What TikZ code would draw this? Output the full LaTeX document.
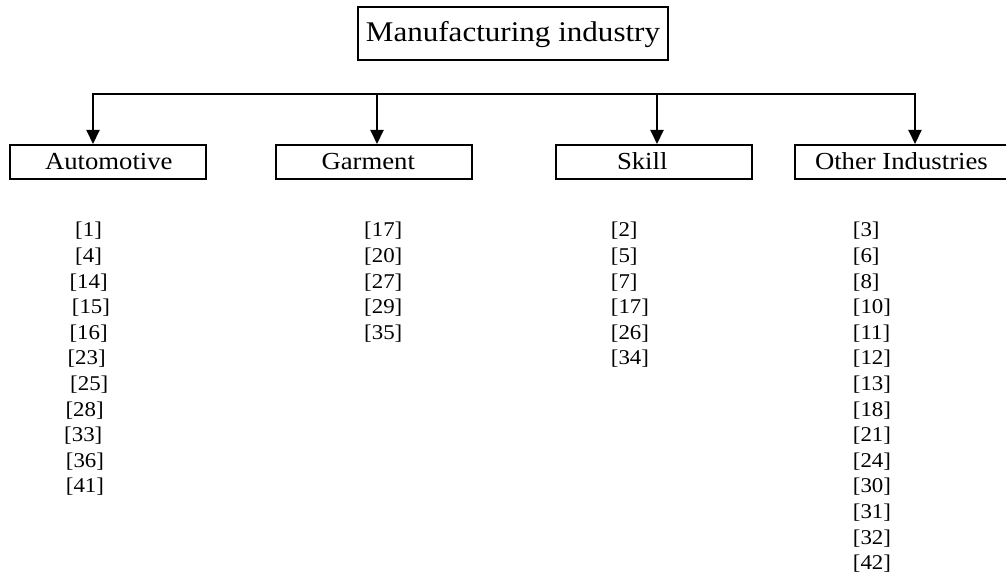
\documentclass[tikz,border=0pt]{standalone}
\usepackage{fontspec}
\setmainfont[FakeStretch=1.09]{Liberation Serif}
\usetikzlibrary{arrows.meta}
\begin{document}
\begin{tikzpicture}[x=1pt,y=-1pt,
  frame/.style={draw, line width=2pt},
  topbox/.style={frame, minimum width=310pt, minimum height=53pt, inner sep=0pt,
    font=\fontsize{28.5}{32}\selectfont, text height=22pt, text depth=5.6pt},
  childbox/.style={frame, minimum height=34pt, inner ysep=0pt,
    font=\fontsize{24.5}{28}\selectfont, text height=19.8pt, text depth=5.2pt},
  refitem/.style={anchor=west, inner sep=0pt, font=\fontsize{21}{24}\selectfont},
  bus/.style={line width=2pt, line cap=rect},
  arr/.style={line width=2pt, -{Triangle[length=14pt,width=13pt]}}
]
\useasboundingbox (0,0) rectangle (1006,580);
\fill[white] (0,0) rectangle (1006,580);

% top
\node[topbox] (top) at (513,33.5) {Manufacturing industry};

% children
\node[childbox, inner xsep=35pt] (auto) at (108,162) {\makebox[126pt][l]{Automotive}};
\node[childbox, inner xsep=46pt] (garm) at (373.5,162) {\makebox[104pt][l]{Garment}};
\node[childbox, inner xsep=61pt] (skill) at (654,162) {\makebox[74pt][l]{Skill}};
\node[childbox, inner xsep=20pt] (oth) at (903,162) {\makebox[176pt][l]{Other Industries}};

% bus and arrows
\coordinate (ba) at (93,94);
\coordinate (bg) at (377,94);
\coordinate (bs) at (657,94);
\coordinate (bo) at (915,94);
\draw[bus] (ba) -- (bo);
\draw[arr] (ba) -- (ba |- auto.north);
\draw[arr] (bg) -- (bg |- garm.north);
\draw[arr] (bs) -- (bs |- skill.north);
\draw[arr] (bo) -- (bo |- oth.north);

% Automotive list
\node[refitem] (a1) at (75,231) {[1]};
\node[refitem] (a2) at (75,256.6) {[4]};
\node[refitem] (a3) at (69.3,282.2) {[14]};
\node[refitem] (a4) at (71.7,307.8) {[15]};
\node[refitem] (a5) at (69.3,333.4) {[16]};
\node[refitem] (a6) at (67.3,359) {[23]};
\node[refitem] (a7) at (70,384.6) {[25]};
\node[refitem] (a8) at (65.3,410.2) {[28]};
\node[refitem] (a9) at (64,435.8) {[33]};
\node[refitem] (a10) at (65.7,461.4) {[36]};
\node[refitem] (a11) at (65.7,487) {[41]};

% Garment list
\foreach \t [count=\i from 0] in {17,20,27,29,35}
  \node[refitem] (g\i) at (364,231+25.6*\i) {[\t]};

% Skill list
\foreach \t [count=\i from 0] in {2,5,7,17,26,34}
  \node[refitem] (s\i) at (610.7,231+25.6*\i) {[\t]};

% Other industries list
\foreach \t [count=\i from 0] in {3,6,8,10,11,12,13,18,21,24,30,31,32,42}
  \node[refitem] (o\i) at (852.7,231+25.6*\i) {[\t]};
\end{tikzpicture}
\end{document}
